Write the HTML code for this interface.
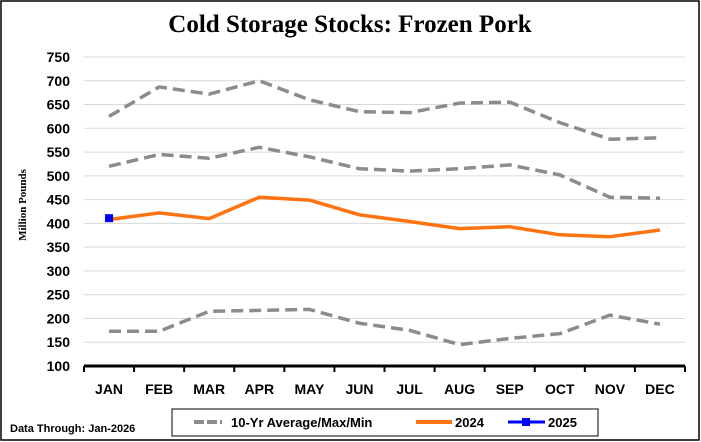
<!DOCTYPE html>
<html><head><meta charset="utf-8"><style>
body{margin:0;background:#fff}
svg{display:block;font-family:"Liberation Sans",sans-serif}
</style></head><body>
<svg width="701" height="442">
<rect x="1" y="1" width="698" height="439" fill="#fff" stroke="#000" stroke-width="1.5"/>
<text x="350" y="32" text-anchor="middle" font-family="Liberation Serif,serif" font-weight="bold" font-size="25">Cold Storage Stocks: Frozen Pork</text>
<g id="grid"></g><g id="yt"></g><g id="xt"></g><g id="series"></g>
<text transform="translate(26,205) rotate(-90)" text-anchor="middle" font-family="Liberation Serif,serif" font-weight="bold" font-size="11">Million Pounds</text>
<text x="10" y="432" font-size="11" font-weight="bold">Data Through: Jan-2026</text>
<g>
<rect x="172" y="409" width="426" height="27" fill="#fff" stroke="#000" stroke-width="1"/>
<g><line x1="194" y1="422" x2="222" y2="422" stroke="#8c8c8c" stroke-width="4" stroke-dasharray="10,3"/><text x="231" y="427" font-size="13" font-weight="bold">10-Yr Average/Max/Min</text></g>
<g><line x1="416" y1="422" x2="452" y2="422" stroke="#ff7311" stroke-width="4"/><text x="455" y="427" font-size="13" font-weight="bold">2024</text></g>
<g><line x1="508" y1="422" x2="545" y2="422" stroke="#0000ff" stroke-width="3"/><rect x="522" y="418" width="8" height="8" fill="#0000ff"/><text x="548" y="427" font-size="13" font-weight="bold">2025</text></g>
</g>
</svg>
<script>
const categories=["JAN","FEB","MAR","APR","MAY","JUN","JUL","AUG","SEP","OCT","NOV","DEC"];
const yTicks=[100,150,200,250,300,350,400,450,500,550,600,650,700,750];
const maxVals=[625,687,672,700,660,635,633,653,655,612,577,580];
const avgVals=[520,545,537,560,540,515,510,515,523,502,455,453];
const minVals=[173,173,215,217,219,190,175,145,158,168,207,188];
const vals2024=[408,422,410,455,449,418,404,389,393,376,372,386];
const vals2025=[411];
const NS="http://www.w3.org/2000/svg";
const x0=84,x1=685,yB=366,yT=57,vMin=100,vMax=750;
const bw=(x1-x0)/categories.length;
const X=i=>x0+bw*(i+0.5);
const Y=v=>yB-(v-vMin)/(vMax-vMin)*(yB-yT);
function mk(t,a,p){const e=document.createElementNS(NS,t);for(const k in a)e.setAttribute(k,a[k]);p.appendChild(e);return e;}
const grid=document.getElementById('grid'),yt=document.getElementById('yt'),xt=document.getElementById('xt'),ser=document.getElementById('series');
yTicks.forEach(v=>{
 if(v>vMin){const g=mk('line',{x1:x0,x2:x1,y1:Y(v),y2:Y(v),stroke:'#d9d9d9','stroke-width':1},grid);
 
 }
 const t=mk('text',{x:70,y:Y(v)+5,'text-anchor':'end','font-size':14,'font-weight':'bold'},yt);t.textContent=v;
 
 
});
const ax=mk('line',{x1:x0,x2:x1,y1:yB,y2:yB,stroke:'#000','stroke-width':3},xt);


for(let i=0;i<=categories.length;i++){mk('line',{x1:x0+bw*i,x2:x0+bw*i,y1:yB,y2:yB+6,stroke:'#000','stroke-width':2},xt);}
categories.forEach((c,i)=>{const t=mk('text',{x:X(i),y:yB+28,'text-anchor':'middle','font-size':14,'font-weight':'bold'},xt);t.textContent=c;
 
 });
function line(vals,stroke,w,dash,name){
 const d=vals.map((v,i)=>(i?'L':'M')+X(i)+','+Y(v)).join(' ');
 const p=mk('path',{d:d,fill:'none',stroke:stroke,'stroke-width':w,'stroke-dasharray':dash||'none','stroke-linejoin':'round'},ser);
 
 
}
line(maxVals,'#8c8c8c',3.5,'12,6','series-10yr-max');
line(avgVals,'#8c8c8c',3.5,'12,6','series-10yr-average');
line(minVals,'#8c8c8c',3.5,'12,6','series-10yr-min');
line(vals2024,'#ff7311',3.5,null,'series-2024');
vals2025.forEach((v,i)=>{const r=mk('rect',{x:X(i)-4,y:Y(v)-4,width:8,height:8,fill:'#0000ff'},ser);
 
 });
</script>
</body></html>
